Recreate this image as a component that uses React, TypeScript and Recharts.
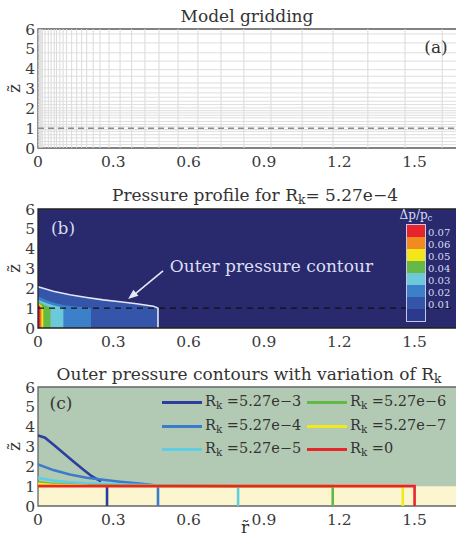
import React from 'react';
import {
  ComposedChart, Area, Line, XAxis, YAxis, ReferenceLine, ReferenceArea,
  ReferenceDot, CartesianGrid, Label,
} from 'recharts';

const FONT = "'DejaVu Serif', serif";
const W = 456;
const H = 180;
const XMAX = 1.665;
const X_TICKS = [0, 0.3, 0.6, 0.9, 1.2, 1.5];
const Y_TICKS = [0, 1, 2, 3, 4, 5, 6];

// ---- (a) model gridding: grid line positions ----
const GRID_R = [0.004, 0.008, 0.012, 0.017, 0.028, 0.041, 0.052, 0.065, 0.074, 0.087, 0.1, 0.114, 0.134, 0.154, 0.174, 0.194, 0.22, 0.247, 0.283, 0.327, 0.373, 0.426, 0.482, 0.558, 0.637, 0.729, 0.82, 0.928, 1.052, 1.175, 1.314, 1.462, 1.61];
const GRID_Z = [0.17, 0.33, 0.51, 0.67, 0.84, 0.93, 1.07, 1.18, 1.34, 1.52, 1.65, 1.77, 1.88, 2.02, 2.19, 2.36, 2.56, 2.78, 3.03, 3.28, 3.62, 3.95, 4.38, 4.8, 5.3, 5.75];

// ---- (b) pressure contour levels (top boundary of each filled level) ----
const B_L1_R = [0, 0.061, 0.127, 0.194, 0.26, 0.327, 0.393, 0.459, 0.472, 0.478, 0.478];
const B_L1_Z = [2.08, 1.85, 1.68, 1.54, 1.42, 1.32, 1.22, 1.1, 1.04, 1.0, 0];
const B_L2_R = [0, 0.03, 0.06, 0.1, 0.15, 0.2, 0.211, 0.211];
const B_L2_Z = [1.6, 1.42, 1.28, 1.16, 1.08, 1.03, 1.0, 0];
const B_L3_R = [0, 0.03, 0.06, 0.09, 0.101, 0.101];
const B_L3_Z = [1.42, 1.27, 1.15, 1.06, 1.0, 0];
const B_L4_R = [0, 0.02, 0.04, 0.05, 0.05];
const B_L4_Z = [1.33, 1.2, 1.08, 1.0, 0];
const B_L5_R = [0, 0.012, 0.021, 0.021];
const B_L5_Z = [1.27, 1.15, 1.0, 0];
const B_L6_R = [0, 0.008, 0.014, 0.014];
const B_L6_Z = [1.24, 1.12, 1.0, 0];
const B_L7_R = [0, 0.006, 0.009, 0.009];
const B_L7_Z = [1.2, 1.1, 1.0, 0];
const B_LEVEL_COLORS = ['#3455a9', '#3b80c8', '#6bc9da', '#67b947', '#f3e61b', '#f28a20', '#e8232b'];

const COLORBAR_COLORS = ['#e8232b', '#f28a20', '#f3e61b', '#67b947', '#6bc9da', '#3b80c8', '#3455a9', '#2c3a8e'];
const COLORBAR_LABELS = ['0.07', '0.06', '0.05', '0.04', '0.03', '0.02', '0.01'];

// ---- (c) outer pressure contours ----
const C_E3_R = [0, 0.028, 0.061, 0.1, 0.14, 0.18, 0.214, 0.247, 0.26, 0.275, 0.275];
const C_E3_Z: (number | null)[] = [3.56, 3.44, 3.1, 2.69, 2.26, 1.84, 1.5, 1.27, null, 1.0, 0];
const C_E4_R = [0, 0.061, 0.127, 0.194, 0.26, 0.327, 0.393, 0.44, 0.47, 0.478, 0.478];
const C_E4_Z = [2.1, 1.81, 1.59, 1.42, 1.32, 1.22, 1.14, 1.08, 1.03, 1.0, 0];
const C_E5_R = [0, 0.061, 0.127, 0.194, 0.327, 0.46, 0.6, 0.75, 0.797, 0.797];
const C_E5_Z = [1.42, 1.28, 1.19, 1.14, 1.08, 1.05, 1.03, 1.01, 1.0, 0];
const C_E6_R = [0, 0.05, 0.15, 0.4, 0.8, 1.174, 1.174];
const C_E6_Z = [1.2, 1.12, 1.06, 1.02, 1.0, 1.0, 0];
const C_E7_R = [0, 0.05, 0.2, 0.6, 1.453, 1.453];
const C_E7_Z = [1.12, 1.07, 1.02, 1.0, 1.0, 0];
const C_0_R = [0, 1.5, 1.5];
const C_0_Z = [1.0, 1.0, 0];

const C_SERIES_NAMES = [' =5.27e\u22123', ' =5.27e\u22124', ' =5.27e\u22125', ' =5.27e\u22126', ' =5.27e\u22127', ' =0'];
const C_SERIES_COLORS = ['#2d3e9c', '#3b7bcb', '#5fcde2', '#62b946', '#f2e81e', '#e8262a'];

const pts = (rs: number[], zs: (number | null)[]) => rs.map((r, i) => ({ r, z: zs[i] }));

const B_LEVELS = [
  pts(B_L1_R, B_L1_Z), pts(B_L2_R, B_L2_Z), pts(B_L3_R, B_L3_Z), pts(B_L4_R, B_L4_Z),
  pts(B_L5_R, B_L5_Z), pts(B_L6_R, B_L6_Z), pts(B_L7_R, B_L7_Z),
];
const C_SERIES = [
  pts(C_E3_R, C_E3_Z), pts(C_E4_R, C_E4_Z), pts(C_E5_R, C_E5_Z),
  pts(C_E6_R, C_E6_Z), pts(C_E7_R, C_E7_Z), pts(C_0_R, C_0_Z),
];
const YELLOW_BAND = pts([0, XMAX], [1, 1]);

const MARGIN = { top: 29, right: 0, bottom: 0, left: 0 };
const tickStyle = { fontSize: 15.5, fill: '#3a3a3a', fontFamily: FONT };

const ZLabel = (props: any) => {
  const vb = props.viewBox || {};
  const cx = 14;
  const cy = vb.y + vb.height / 2;
  return (
    <text x={cx} y={cy} transform={`rotate(-90 ${cx} ${cy})`} textAnchor="middle" dominantBaseline="central"
      fontSize={17} fontFamily={FONT} fill="#333">{'z\u0303'}</text>
  );
};

const RLabel = (props: any) => {
  const vb = props.viewBox || {};
  const cx = vb.x + vb.width / 2 - 2;
  const cy = vb.y + 21;
  return (
    <text x={cx} y={cy} textAnchor="middle" dominantBaseline="central"
      fontSize={17} fontFamily={FONT} fill="#333">{'r\u0303'}</text>
  );
};

const axes = (showR: boolean) => [
  <XAxis key="x" type="number" dataKey="r" domain={[0, XMAX]} ticks={X_TICKS} allowDataOverflow
    axisLine={false} tickLine={false} tick={tickStyle} height={32} tickSize={6} tickMargin={2} interval={0}>
    {showR ? <Label content={RLabel} /> : null}
  </XAxis>,
  <YAxis key="y" type="number" dataKey="z" domain={[0, 6]} ticks={Y_TICKS} allowDataOverflow
    axisLine={false} tickLine={false} tick={tickStyle} width={38} tickSize={3} tickMargin={0} interval={0}>
    <Label content={ZLabel} />
  </YAxis>,
];

const frame = (color: string) => (
  <ReferenceArea x1={0} x2={XMAX * 1.02} y1={0} y2={6} ifOverflow="visible" fill="none" stroke={color} strokeWidth={1.3} />
);

const Title = ({ cx, cy, children, color = '#333' }: any) => (
  <div style={{
    position: 'absolute', left: cx - 225, width: 450, top: cy - 11, lineHeight: '22px', textAlign: 'center',
    fontFamily: FONT, fontSize: 17, color, whiteSpace: 'nowrap',
  }}>{children}</div>
);

const Sub = ({ children }: any) => (
  <span style={{ fontSize: '0.72em', verticalAlign: '-0.25em' }}>{children}</span>
);

const ArrowHead = (props: any) => {
  const { cx, cy } = props;
  const a = (141 * Math.PI) / 180;
  const L = 10, hw = 4;
  const bx = cx - L * Math.cos(a), by = cy - L * Math.sin(a);
  const px = -Math.sin(a) * hw, py = Math.cos(a) * hw;
  return <polygon points={`${cx},${cy} ${bx + px},${by + py} ${bx - px},${by - py}`} fill="#e6e8f6" />;
};

const AnnotText = (props: any) => (
  <text x={props.cx} y={props.cy} dominantBaseline="central" fontSize={17} fontFamily={FONT} fill="#dcdff2">
    Outer pressure contour
  </text>
);

const ColorBar = () => (
  <div style={{ position: 'absolute', left: 392, top: 180, width: 64, height: 150, fontFamily: FONT, color: '#d8dcf0' }}>
    <div style={{ position: 'absolute', left: 0, width: 48, top: 29, lineHeight: '13px', textAlign: 'center', fontSize: 12, whiteSpace: 'nowrap' }}>
      {'\u0394p/p'}<Sub>c</Sub>
    </div>
    <div style={{ position: 'absolute', left: 14, top: 44, width: 20, border: '1px solid #c4c8e4', boxSizing: 'border-box' }}>
      {COLORBAR_COLORS.map((c) => (
        <div key={c} style={{ height: 12, background: c }} />
      ))}
    </div>
    {COLORBAR_LABELS.map((l, i) => (
      <div key={l} style={{ position: 'absolute', left: 36, top: 44 + 12 * (i + 1) - 4 - 5.5, height: 11, lineHeight: '11px', fontSize: 10 }}>{l}</div>
    ))}
  </div>
);

const LegendC = () => (
  <div style={{ position: 'absolute', left: 0, top: 358, width: W, height: 180, fontFamily: FONT, color: '#333', fontSize: 14.5 }}>
    {C_SERIES_NAMES.map((n, i) => {
      const col = Math.floor(i / 3);
      const row = i % 3;
      const left = col === 0 ? 162 : 307;
      const cy = [44, 68, 91][row];
      return (
        <div key={n} style={{ position: 'absolute', left, top: cy - 11, height: 22, display: 'flex', alignItems: 'center', whiteSpace: 'pre' }}>
          <div style={{ width: 40, height: 3, background: C_SERIES_COLORS[i], marginRight: 3 }} />
          <span>R<Sub>k</Sub>{n}</span>
        </div>
      );
    })}
  </div>
);

const PanelLetter = ({ cx, cy, text, color }: any) => (
  <div style={{ position: 'absolute', left: cx - 20, width: 40, top: cy - 11, lineHeight: '22px', textAlign: 'center', fontFamily: FONT, fontSize: 17, color }}>{text}</div>
);

export default function App() {
  return (
    <div style={{ position: 'absolute', left: 0, top: 0, width: W, height: 538, background: '#fff', overflow: 'hidden' }}>
      {/* (a) */}
      <div style={{ position: 'absolute', left: 0, top: 0 }}>
        <ComposedChart width={W} height={H} margin={MARGIN}>
          {axes(false)}
          {GRID_R.map((r) => (
            <ReferenceLine key={'v' + r} x={r} stroke="#d9d9d9" strokeWidth={1} />
          ))}
          {GRID_Z.map((z) => (
            <ReferenceLine key={'h' + z} y={z} stroke="#dedede" strokeWidth={1} />
          ))}
          <ReferenceLine y={1} stroke="#8c8c8c" strokeDasharray="6 4" strokeWidth={1.5} />
          {frame('#5a5a5a')}
        </ComposedChart>
      </div>
      {/* (b) */}
      <div style={{ position: 'absolute', left: 0, top: 180 }}>
        <ComposedChart width={W} height={H} margin={MARGIN}>
          <CartesianGrid fill="#29296e" horizontal={false} vertical={false} />
          {axes(false)}
          {B_LEVELS.map((d, i) => (
            <Area key={'lvl' + i} data={d} dataKey="z" type="linear" fill={B_LEVEL_COLORS[i]} fillOpacity={1}
              stroke={i === 0 ? '#e4e6f4' : 'none'} strokeWidth={i === 0 ? 1.6 : 0} isAnimationActive={false} dot={false} activeDot={false} />
          ))}
          <ReferenceLine y={1} stroke="#111" strokeDasharray="6 5" strokeWidth={1.2} />
          <ReferenceLine segment={[{ x: 0.498, y: 2.88 }, { x: 0.375, y: 1.6 }]} stroke="#e6e8f6" strokeWidth={1.6} />
          <ReferenceDot x={0.359} y={1.46} r={1} shape={ArrowHead} />
          <ReferenceDot x={0.525} y={3.14} r={1} shape={AnnotText} />
          {frame('#222')}
        </ComposedChart>
      </div>
      {/* (c) */}
      <div style={{ position: 'absolute', left: 0, top: 358 }}>
        <ComposedChart width={W} height={H} margin={MARGIN}>
          <CartesianGrid fill="#b2cab4" horizontal={false} vertical={false} />
          {axes(true)}
          <Area data={YELLOW_BAND} dataKey="z" type="linear" fill="#fbf6cf" fillOpacity={1} stroke="none" isAnimationActive={false} dot={false} activeDot={false} />
          {C_SERIES.map((d, i) => (
            <Line key={'c' + i} data={d} dataKey="z" type="linear" stroke={C_SERIES_COLORS[i]} strokeWidth={2.6}
              dot={false} activeDot={false} isAnimationActive={false} connectNulls={false} strokeLinecap="round" />
          ))}
          {frame('#666')}
        </ComposedChart>
      </div>
      <Title cx={247} cy={16}>Model gridding</Title>
      <Title cx={255} cy={195}>Pressure profile for R<Sub>k</Sub>= 5.27e{'\u2212'}4</Title>
      <Title cx={249} cy={374}>Outer pressure contours with variation of R<Sub>k</Sub></Title>
      <PanelLetter cx={436} cy={47} text="(a)" color="#333" />
      <PanelLetter cx={63} cy={228} text="(b)" color="#d8dcf0" />
      <PanelLetter cx={61} cy={403} text="(c)" color="#333" />
      <ColorBar />
      <LegendC />
    </div>
  );
}
